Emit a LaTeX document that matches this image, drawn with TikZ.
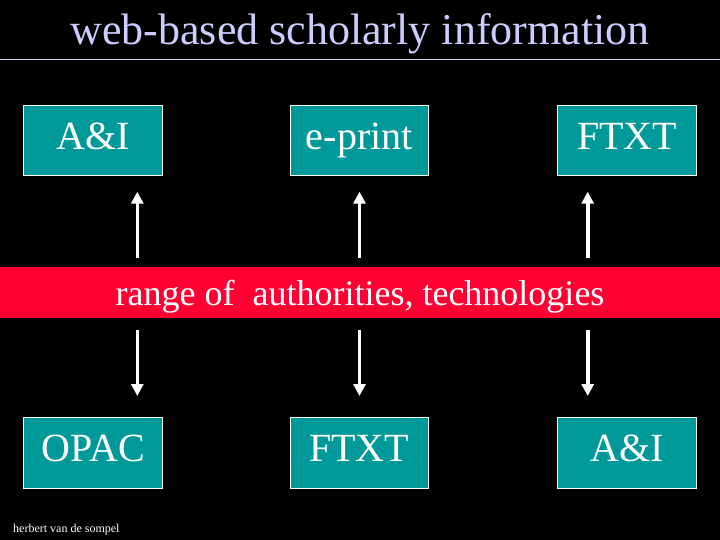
\documentclass[tikz,border=0pt]{standalone}
\usepackage{fontspec}
\setmainfont{Liberation Serif}
\usetikzlibrary{arrows.meta}
\definecolor{titlecol}{HTML}{CCCCFF}
\definecolor{boxteal}{HTML}{009999}
\definecolor{bandred}{HTML}{FF0033}
\tikzset{
  infobox/.style={draw=white, line width=1pt, fill=boxteal, text=white, inner sep=0pt,
    minimum width=138.5pt, minimum height=70.7pt, text height=44pt, text depth=26.7pt,
    font=\fontsize{40}{46}\selectfont},
  arr/.style={draw=white, line width=3.6pt, -{Triangle[width=12pt,length=12pt]}},
}
\begin{document}
\begin{tikzpicture}[x=1pt,y=-1pt]
\useasboundingbox (0,0) rectangle (720,540);
\fill[black] (0,0) rectangle (720,540);
% title
\node[anchor=base, text=titlecol, inner sep=0pt, font=\fontsize{44}{50}\selectfont] (title) at (360,45) {web-based scholarly information};
\coordinate (rl) at (0,60);
\coordinate (rr) at (720,60);
\draw[titlecol, line width=1pt] (rl) -- (rr);
% top row
\node[infobox] (ai1) at (93.2,140.65) {A\&I};
\node[infobox] (ep) at (359.3,140.65) {e-print};
\node[infobox] (ft1) at (627.2,140.65) {FTXT};
% bottom row
\node[infobox] (opac) at (93.2,452.8) {OPAC};
\node[infobox] (ft2) at (359.3,452.8) {FTXT};
\node[infobox] (ai2) at (627.2,452.8) {A\&I};
% band
\node[fill=bandred, text=white, inner sep=0pt, minimum width=720pt, minimum height=51pt,
  text height=38.3pt, text depth=12.7pt, font=\fontsize{36}{42}\selectfont] (band) at (360,292.2)
  {range of \ authorities, technologies};
% arrow endpoints
\coordinate (u1s) at (137.3,258.3); \coordinate (u1e) at (137.3,191.7);
\coordinate (u2s) at (359.5,258.3); \coordinate (u2e) at (359.5,191.7);
\coordinate (u3s) at (587.7,258.3); \coordinate (u3e) at (587.7,191.7);
\coordinate (d1s) at (137.3,330); \coordinate (d1e) at (137.3,396);
\coordinate (d2s) at (359.5,330); \coordinate (d2e) at (359.5,396);
\coordinate (d3s) at (587.7,330); \coordinate (d3e) at (587.7,396);
\draw[arr] (u1s) -- (u1e);
\draw[arr] (u2s) -- (u2e);
\draw[arr] (u3s) -- (u3e);
\draw[arr] (d1s) -- (d1e);
\draw[arr] (d2s) -- (d2e);
\draw[arr] (d3s) -- (d3e);
% footer
\node[anchor=base west, text=white, inner sep=0pt, font=\fontsize{12}{14}\selectfont] (foot) at (13,532.5) {herbert van de sompel};
\end{tikzpicture}
\end{document}
